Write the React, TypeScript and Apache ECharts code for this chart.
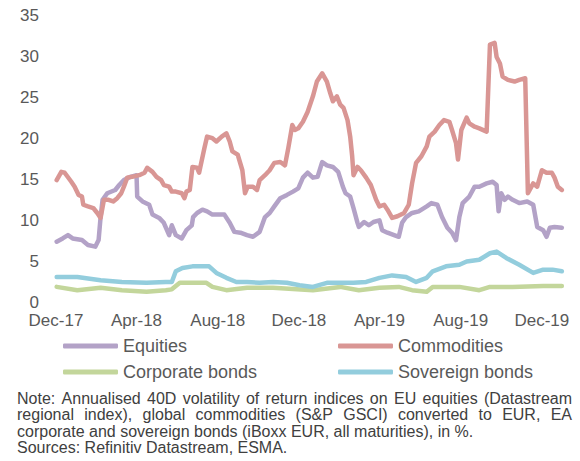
import React, { useEffect, useRef } from "react";
import * as echarts from "echarts";

const axisLabelDates = ["2017-12-01", "2018-04-01", "2018-08-01", "2018-12-01", "2019-04-01", "2019-08-01", "2019-12-01"];
const monthNames = ["Jan", "Feb", "Mar", "Apr", "May", "Jun", "Jul", "Aug", "Sep", "Oct", "Nov", "Dec"];
const yTicks = { min: 0, max: 35, interval: 5 };

const equities: [string, number][] = [
  ["2017-12-02", 7.4], ["2017-12-11", 7.8], ["2017-12-19", 8.2], ["2017-12-26", 7.8], ["2018-01-09", 7.6],
  ["2018-01-18", 7.0], ["2018-01-29", 6.8], ["2018-02-03", 7.6], ["2018-02-06", 10.4], ["2018-02-09", 12.5],
  ["2018-02-16", 13.3], ["2018-02-28", 13.7], ["2018-03-06", 14.3], ["2018-03-13", 14.9], ["2018-03-23", 15.3],
  ["2018-04-01", 15.5], ["2018-04-02", 12.9], ["2018-04-10", 12.3], ["2018-04-20", 11.9], ["2018-04-25", 10.7],
  ["2018-05-05", 10.3], ["2018-05-12", 9.7], ["2018-05-20", 8.2], ["2018-05-24", 9.4], ["2018-05-30", 8.2],
  ["2018-06-08", 7.8], ["2018-06-15", 8.8], ["2018-06-23", 9.4], ["2018-06-25", 10.4], ["2018-07-01", 10.9],
  ["2018-07-09", 11.3], ["2018-07-16", 11.1], ["2018-07-24", 10.7], ["2018-08-04", 10.7], ["2018-08-11", 10.7],
  ["2018-08-19", 9.7], ["2018-08-26", 8.6], ["2018-09-04", 8.5], ["2018-09-14", 8.2], ["2018-09-23", 8.0],
  ["2018-10-03", 8.6], ["2018-10-11", 10.4], ["2018-10-18", 10.9], ["2018-10-25", 11.7], ["2018-11-03", 12.7],
  ["2018-11-13", 13.1], ["2018-11-22", 13.5], ["2018-11-30", 13.9], ["2018-12-07", 15.2], ["2018-12-14", 15.8],
  ["2018-12-22", 15.2], ["2018-12-29", 15.3], ["2019-01-05", 17.1], ["2019-01-12", 16.7], ["2019-01-21", 16.5],
  ["2019-01-29", 15.9], ["2019-02-05", 14.1], ["2019-02-09", 13.3], ["2019-02-16", 12.9], ["2019-02-21", 11.5],
  ["2019-02-27", 9.7], ["2019-03-01", 9.2], ["2019-03-09", 9.8], ["2019-03-16", 9.4], ["2019-03-23", 9.8],
  ["2019-04-01", 10.0], ["2019-04-05", 8.8], ["2019-04-13", 8.5], ["2019-04-23", 8.2], ["2019-04-30", 8.0],
  ["2019-05-05", 9.7], ["2019-05-11", 10.4], ["2019-05-20", 10.9], ["2019-05-30", 11.1], ["2019-06-11", 11.7],
  ["2019-06-18", 12.1], ["2019-06-27", 11.9], ["2019-07-04", 10.4], ["2019-07-12", 9.1], ["2019-07-19", 8.5],
  ["2019-07-25", 7.6], ["2019-07-30", 10.4], ["2019-08-04", 12.1], ["2019-08-14", 12.9], ["2019-08-22", 14.1],
  ["2019-08-29", 14.1], ["2019-09-09", 14.5], ["2019-09-18", 14.7], ["2019-09-24", 14.3], ["2019-09-27", 11.1],
  ["2019-10-01", 13.3], ["2019-10-06", 12.5], ["2019-10-11", 12.9], ["2019-10-18", 12.5], ["2019-10-28", 12.1],
  ["2019-11-09", 12.3], ["2019-11-18", 11.9], ["2019-11-24", 9.2], ["2019-12-03", 8.8], ["2019-12-08", 8.0],
  ["2019-12-13", 9.1], ["2019-12-20", 9.2], ["2019-12-31", 9.1],
];

const commodities: [string, number][] = [
  ["2017-12-02", 14.9], ["2017-12-09", 15.9], ["2017-12-14", 15.8], ["2017-12-24", 14.7], ["2017-12-29", 14.1],
  ["2018-01-04", 13.1], ["2018-01-09", 12.9], ["2018-01-11", 11.9], ["2018-01-18", 11.7], ["2018-01-26", 11.5],
  ["2018-02-01", 10.9], ["2018-02-06", 10.3], ["2018-02-11", 12.5], ["2018-02-18", 12.5], ["2018-02-25", 12.3],
  ["2018-03-03", 12.7], ["2018-03-09", 13.3], ["2018-03-13", 14.1], ["2018-03-18", 15.2], ["2018-03-25", 15.3],
  ["2018-04-05", 15.5], ["2018-04-13", 15.8], ["2018-04-17", 16.4], ["2018-04-25", 15.9], ["2018-05-01", 15.3],
  ["2018-05-08", 14.9], ["2018-05-12", 14.3], ["2018-05-20", 14.1], ["2018-05-24", 13.5], ["2018-05-30", 13.5],
  ["2018-06-08", 13.3], ["2018-06-12", 12.7], ["2018-06-15", 13.5], ["2018-06-20", 13.7], ["2018-06-24", 16.5],
  ["2018-07-01", 16.4], ["2018-07-04", 15.8], ["2018-07-12", 18.8], ["2018-07-16", 20.2], ["2018-07-24", 20.0],
  ["2018-07-30", 19.6], ["2018-08-07", 20.2], ["2018-08-14", 20.6], ["2018-08-19", 19.6], ["2018-08-23", 18.4],
  ["2018-08-31", 18.0], ["2018-09-07", 16.1], ["2018-09-11", 13.3], ["2018-09-15", 14.1], ["2018-09-23", 14.1],
  ["2018-09-29", 13.7], ["2018-10-03", 14.9], ["2018-10-11", 15.5], ["2018-10-18", 16.1], ["2018-10-25", 17.0],
  ["2018-11-03", 17.1], ["2018-11-10", 16.7], ["2018-11-15", 18.8], ["2018-11-21", 21.6], ["2018-11-25", 21.0],
  ["2018-11-30", 21.2], ["2018-12-07", 22.0], ["2018-12-14", 23.2], ["2018-12-22", 25.1], ["2018-12-28", 26.9],
  ["2019-01-05", 27.9], ["2019-01-12", 26.9], ["2019-01-17", 25.5], ["2019-01-21", 24.5], ["2019-01-27", 25.1],
  ["2019-02-01", 24.1], ["2019-02-06", 23.7], ["2019-02-12", 22.2], ["2019-02-16", 20.2], ["2019-02-19", 17.8],
  ["2019-02-21", 15.5], ["2019-02-27", 16.5], ["2019-03-04", 16.1], ["2019-03-12", 15.2], ["2019-03-19", 14.3],
  ["2019-03-27", 12.5], ["2019-04-01", 11.7], ["2019-04-08", 11.9], ["2019-04-13", 11.3], ["2019-04-20", 10.3],
  ["2019-04-28", 10.5], ["2019-05-08", 10.9], ["2019-05-15", 11.9], ["2019-05-20", 14.5], ["2019-05-26", 17.0],
  ["2019-06-03", 17.8], ["2019-06-11", 19.0], ["2019-06-15", 20.2], ["2019-06-23", 20.8], ["2019-06-30", 21.6],
  ["2019-07-07", 22.2], ["2019-07-15", 22.0], ["2019-07-19", 21.0], ["2019-07-25", 19.4], ["2019-07-28", 17.4],
  ["2019-08-02", 21.0], ["2019-08-10", 22.5], ["2019-08-14", 21.8], ["2019-08-22", 21.4], ["2019-08-29", 21.2],
  ["2019-09-09", 20.8], ["2019-09-14", 31.4], ["2019-09-21", 31.6], ["2019-09-24", 29.9], ["2019-09-29", 29.1],
  ["2019-10-03", 27.5], ["2019-10-11", 27.1], ["2019-10-21", 26.9], ["2019-10-28", 27.1], ["2019-11-06", 27.3],
  ["2019-11-10", 13.3], ["2019-11-18", 14.5], ["2019-11-24", 14.1], ["2019-12-01", 16.1], ["2019-12-08", 15.8],
  ["2019-12-16", 15.8], ["2019-12-20", 15.2], ["2019-12-25", 14.1], ["2019-12-31", 13.7],
];

const corporateBonds: [string, number][] = [
  ["2017-12-02", 1.9], ["2018-01-02", 1.5], ["2018-02-06", 1.8], ["2018-03-10", 1.5], ["2018-04-16", 1.3],
  ["2018-05-15", 1.5], ["2018-05-24", 1.6], ["2018-06-05", 2.4], ["2018-06-30", 2.4], ["2018-07-15", 2.4],
  ["2018-07-24", 1.9], ["2018-08-14", 1.5], ["2018-09-14", 1.8], ["2018-10-23", 1.8], ["2018-12-22", 1.5],
  ["2019-02-01", 1.9], ["2019-03-01", 1.5], ["2019-04-01", 1.8], ["2019-04-30", 1.9], ["2019-05-20", 1.5],
  ["2019-06-11", 1.3], ["2019-06-20", 1.9], ["2019-07-30", 1.9], ["2019-08-29", 1.5], ["2019-09-14", 1.9],
  ["2019-10-18", 1.9], ["2019-12-03", 2.0], ["2019-12-31", 2.0],
];

const sovereignBonds: [string, number][] = [
  ["2017-12-02", 3.1], ["2018-01-02", 3.1], ["2018-02-06", 2.7], ["2018-03-10", 2.5], ["2018-04-16", 2.4],
  ["2018-05-15", 2.5], ["2018-05-24", 2.5], ["2018-05-30", 3.8], ["2018-06-09", 4.2], ["2018-06-24", 4.4],
  ["2018-07-04", 4.4], ["2018-07-19", 4.4], ["2018-07-30", 3.6], ["2018-08-14", 3.0], ["2018-08-29", 2.5],
  ["2018-09-14", 2.5], ["2018-10-03", 2.4], ["2018-10-23", 2.5], ["2018-11-13", 2.4], ["2018-12-02", 2.1],
  ["2018-12-22", 1.9], ["2019-01-12", 2.4], ["2019-02-01", 2.4], ["2019-02-21", 2.4], ["2019-03-12", 2.5],
  ["2019-04-01", 3.0], ["2019-04-20", 3.3], ["2019-05-11", 3.1], ["2019-05-26", 2.5], ["2019-06-11", 3.0],
  ["2019-06-20", 3.8], ["2019-07-10", 4.4], ["2019-07-30", 4.6], ["2019-08-10", 5.0], ["2019-08-29", 5.2],
  ["2019-09-14", 6.0], ["2019-09-24", 6.2], ["2019-10-09", 5.4], ["2019-10-28", 4.6], ["2019-11-18", 3.6],
  ["2019-12-03", 4.0], ["2019-12-17", 4.0], ["2019-12-31", 3.8],
];

const seriesNames = ["Equities", "Commodities", "Corporate bonds", "Sovereign bonds"];
const seriesColors = ["#B3A2C7", "#D99694", "#C3D69B", "#93CDDD"];

const noteLines = [
  "Note: Annualised 40D volatility of return indices on EU equities (Datastream",
  "regional index), global commodities (S&P GSCI) converted to EUR, EA",
  "corporate and sovereign bonds (iBoxx EUR, all maturities), in %.",
  "Sources: Refinitiv Datastream, ESMA.",
];

const toTime = (s: string) => {
  const [y, m, d] = s.split("-").map(Number);
  return Date.UTC(y, m - 1, d);
};

export default function App() {
  const ref = useRef<HTMLDivElement>(null);
  useEffect(() => {
    document.body.style.margin = "0";
    if (!ref.current) return;
    const chart = echarts.init(ref.current, null, { renderer: "svg" });

    const fontFamily = '"Liberation Sans", Arial, sans-serif';
    const noteFontSize = 16;
    const noteFont = `${noteFontSize}px ${fontFamily}`;
    const ctx = document.createElement("canvas").getContext("2d")!;
    ctx.font = noteFont;
    const noteLeft = 17;
    const noteWidth = 555;
    const noteY = [398, 414.5, 431, 447.5];
    const noteColor = "#404040";
    const graphics: any[] = [];
    noteLines.forEach((line, i) => {
      if (i < 2) {
        const words = line.split(" ");
        const widths = words.map((w) => ctx.measureText(w).width);
        const total = widths.reduce((a, b) => a + b, 0);
        const gap = (noteWidth - total) / (words.length - 1);
        let x = noteLeft;
        words.forEach((w, k) => {
          graphics.push({
            type: "text",
            x,
            y: noteY[i],
            style: { text: w, font: noteFont, fill: noteColor, verticalAlign: "middle", align: "left" },
          });
          x += widths[k] + gap;
        });
      } else {
        graphics.push({
          type: "text",
          x: noteLeft,
          y: noteY[i],
          style: { text: line, font: noteFont, fill: noteColor, verticalAlign: "middle", align: "left" },
        });
      }
    });

    const datasets = [equities, commodities, corporateBonds, sovereignBonds];
    const legendCommon = {
      orient: "vertical" as const,
      top: 335,
      padding: 0,
      icon: "roundRect",
      itemWidth: 55,
      itemHeight: 5,
      itemGap: 4,
      textStyle: { fontSize: 18, lineHeight: 22, color: "#595959", fontFamily },
    };

    chart.setOption({
      animation: false,
      textStyle: { fontFamily },
      grid: { left: 56, right: 17.5, top: 15, bottom: 158.5, containLabel: false },
      legend: [
        { ...legendCommon, left: 63, data: [seriesNames[0], seriesNames[2]] },
        { ...legendCommon, left: 338, data: [seriesNames[1], seriesNames[3]] },
      ],
      xAxis: {
        type: "value",
        min: toTime("2017-12-01"),
        max: toTime("2020-01-01"),
        axisLine: { show: false },
        axisTick: { show: false },
        splitLine: { show: false },
        axisLabel: {
          customValues: axisLabelDates.map(toTime),
          fontSize: 17,
          color: "#595959",
          margin: 9,
          formatter: (v: number) => {
            const d = new Date(v);
            return `${monthNames[d.getUTCMonth()]}-${String(d.getUTCFullYear()).slice(2)}`;
          },
        },
      },
      yAxis: {
        type: "value",
        min: yTicks.min,
        max: yTicks.max,
        interval: yTicks.interval,
        axisLine: { show: false },
        axisTick: { show: false },
        splitLine: { show: false },
        axisLabel: { fontSize: 17, color: "#595959", margin: 17 },
      },
      series: datasets.map((data, i) => ({
        name: seriesNames[i],
        type: "line",
        symbol: "none",
        color: seriesColors[i],
        itemStyle: { color: seriesColors[i] },
        lineStyle: { width: 4.5, color: seriesColors[i], cap: "round", join: "round" },
        data: data.map(([d, v]) => [toTime(d), v]),
      })),
      graphic: graphics,
    });
    return () => chart.dispose();
  }, []);
  return <div ref={ref} style={{ width: 580, height: 461 }} />;
}
